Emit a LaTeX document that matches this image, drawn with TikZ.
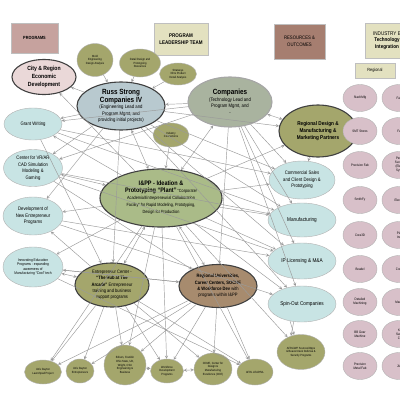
\documentclass[tikz,border=0pt]{standalone}
\usepackage{fontspec}
\setmainfont{Liberation Sans}[FakeStretch=0.85]
\usetikzlibrary{shapes.geometric, arrows, positioning}
\definecolor{hdrpink}{HTML}{C6A29E}
\definecolor{hdrkhaki}{HTML}{E3E1C0}
\definecolor{hdrbrown}{HTML}{A67E70}
\definecolor{citypink}{HTML}{EAD8D8}
\definecolor{russblue}{HTML}{B8C9CF}
\definecolor{compgreen}{HTML}{A9B39F}
\definecolor{progcyan}{HTML}{C8E4E4}
\definecolor{olivefill}{HTML}{A4A66C}
\definecolor{ippgreen}{HTML}{AABB88}
\definecolor{univbrown}{HTML}{A78B6E}
\definecolor{firmpink}{HTML}{D8C0C9}
\definecolor{linkgray}{HTML}{9A9A9A}
\tikzset{
    hdr/.style={rectangle, draw=gray!50, inner sep=0pt, align=center},
    blob/.style={ellipse, draw=gray!75!black, inner sep=0pt, align=center},
    keyblob/.style={blob, draw=black!75, line width=1.1pt},
    prog/.style={blob, draw=gray!60, fill=progcyan, font=\fontsize{5}{6.5}\selectfont},
    small/.style={blob, draw=gray!60, fill=olivefill, font=\fontsize{3}{3.6}\selectfont},
    firm/.style={blob, draw=gray!60, fill=firmpink, minimum width=34pt, minimum height=27pt, font=\fontsize{3.4}{4}\selectfont},
    link/.style={->, >=stealth, draw=linkgray, line width=0.45pt}
}

\begin{document}
\begin{tikzpicture}[x=1pt, y=-1pt]
    \useasboundingbox (0,0) rectangle (400,400);
    \clip (0,0) rectangle (400,400);
    \fill[white] (0,0) rectangle (400,400);

    % Header boxes
    \node[hdr, fill=hdrpink, minimum width=47pt, minimum height=30pt, font=\fontsize{4.5}{5.5}\selectfont\bfseries] (programs) at (34.5,38) {PROGRAMS};
    \node[hdr, fill=hdrkhaki, minimum width=54pt, minimum height=32pt, font=\fontsize{5.3}{6.5}\selectfont\bfseries] (leadership) at (181,39) {PROGRAM\\LEADERSHIP TEAM};
    \node[hdr, fill=hdrbrown, minimum width=51pt, minimum height=35pt, font=\fontsize{5}{6.5}\selectfont] (resources) at (299.5,41.5) {RESOURCES \&\\OUTCOMES};
    \node[hdr, fill=hdrkhaki, minimum width=44pt, minimum height=35pt, font=\fontsize{5.4}{6.5}\selectfont] (industry) at (387,40.5) {INDUSTRY E\\\textbf{Technology}\\\textbf{Integration}};
    \node[hdr, fill=hdrkhaki, minimum width=40pt, minimum height=15pt, font=\fontsize{4.5}{5.5}\selectfont] (regional) at (375,70.5) {Regional};

    % Leadership team
    \node[keyblob, fill=citypink, minimum width=64pt, minimum height=35pt, font=\fontsize{6}{8}\selectfont\bfseries] (city) at (44,77) {City \& Region\\Economic\\Development};
    \node[keyblob, fill=russblue, minimum width=88pt, minimum height=48pt, font=\fontsize{5}{6.5}\selectfont] (russ) at (121,106) {{\fontsize{7.5}{8.5}\selectfont\bfseries Russ Strong}\\{\fontsize{7.5}{8.5}\selectfont\bfseries Companies IV}\\(Engineering Lead and\\Program Mgmt, and\\providing initial projects)};
    \node[keyblob, draw=gray!70, fill=compgreen, minimum width=84pt, minimum height=50pt, font=\fontsize{5}{6.5}\selectfont] (comp) at (230,102) {{\fontsize{7.5}{8.5}\selectfont\bfseries Companies}\\(Technology Lead and\\Program Mgmt, and\\-};
    \node[small, minimum width=36pt, minimum height=33pt] (mold) at (95,60) {Mold\\Engineering\\Design Analysis};
    \node[small, minimum width=41pt, minimum height=28pt] (detail) at (140,63) {Detail Design and\\Prototyping\\Resources};
    \node[small, minimum width=37pt, minimum height=22pt] (strat) at (178,74) {Stratasys\\3D \& Product\\Detail Analysis};
    \node[small, minimum width=36pt, minimum height=24pt] (indcon) at (171,135) {Industry\\Connections};

    % Programs column
    \node[prog, minimum width=58pt, minimum height=32pt] (grant) at (33,124) {Grant Writing};
    \node[prog, minimum width=59pt, minimum height=37pt] (vr) at (33,168) {Center for VR/AR\\CAD Simulation\\Modeling \&\\Gaming};
    \node[prog, minimum width=60pt, minimum height=38pt] (devent) at (33,216) {Development of\\New Entrepreneur\\Programs};
    \node[prog, minimum width=60pt, minimum height=40pt, font=\fontsize{3.8}{4.6}\selectfont] (innov) at (33,267) {Innovating Education\\Programs - expanding\\awareness of\\Manufacturing ``Cool'' tech};

    % Central plant
    \node[keyblob, fill=ippgreen, minimum width=122pt, minimum height=58pt, font=\fontsize{4.5}{7}\selectfont] (ipp) at (161,198) {{\fontsize{6.5}{8.5}\selectfont\bfseries I\&PP - Ideation \&}\\{\fontsize{6.5}{8.5}\selectfont\bfseries Prototyping ``Plant''} ``Corporate/\\Academia/Entrepreneurial Collaboration\\Facility'' for Rapid Modeling, Prototyping,\\Design for Production};
    \node[keyblob, fill=olivefill, minimum width=74pt, minimum height=44pt, font=\fontsize{4.8}{6.2}\selectfont] (hub) at (112,285) {Entrepreneur Center -\\\textbf{``The Hub at The}\\\textbf{Arcade''} Entrepreneur\\training and business\\support programs};
    \node[keyblob, fill=univbrown, minimum width=78pt, minimum height=43pt, font=\fontsize{4.8}{6.2}\selectfont] (univ) at (218,286) {\textbf{Regional Universities,}\\\textbf{Career Centers, SOCHE}\\\textbf{\& Workforce Dev} with\\programs within I\&PP};

    % Outcomes column
    \node[keyblob, fill=olivefill, minimum width=78pt, minimum height=52pt, font=\fontsize{5.5}{6.7}\selectfont\bfseries] (regdes) at (318,131) {Regional Design \&\\Manufacturing \&\\Marketing Partners};
    \node[prog, minimum width=66pt, minimum height=38pt] (sales) at (302,180) {Commercial Sales\\and Client Design \&\\Prototyping};
    \node[prog, minimum width=68pt, minimum height=34pt, font=\fontsize{5.5}{6.5}\selectfont] (mfg) at (302,220) {Manufacturing};
    \node[prog, minimum width=68pt, minimum height=36pt, font=\fontsize{5.5}{6.5}\selectfont] (ip) at (302,261) {IP Licensing \& M\&A};
    \node[prog, minimum width=68pt, minimum height=36pt, font=\fontsize{5.5}{6.5}\selectfont] (spin) at (302,304) {Spin-Out Companies};

    % Bottom partners
    \node[small, minimum width=37pt, minimum height=24pt] (udone) at (43,372) {Univ Dayton\\Launchpad Project};
    \node[small, minimum width=28pt, minimum height=24pt] (udtwo) at (80,371) {Univ Dayton\\Entrepreneurs};
    \node[small, minimum width=42pt, minimum height=40pt] (edison) at (125,365) {Edison, Franklin\\Ohio State, UD,\\Wright, CSU\\Engineering \&\\Business};
    \node[small, minimum width=33pt, minimum height=24pt] (work) at (167,371) {Workforce\\Development\\Programs};
    \node[small, minimum width=38pt, minimum height=32pt] (cdme) at (213,369) {CDME, Center for\\Design \&\\Manufacturing\\Excellence (CDE)};
    \node[small, minimum width=36pt, minimum height=26pt] (afrl) at (255,372) {AFRL LEAP/ML};
    \node[small, minimum width=48pt, minimum height=35pt] (afrlwp) at (301,352) {AFRL/WP Sources/Opps\\\& Beavercreek Defense \&\\Security Programs};

    % Industry firms
    \node[firm] (stadt) at (360,98) {Stadt Mfg};
    \node[firm] (smt) at (360,131) {SMT Stores};
    \node[firm] (precfab) at (360,165) {Precision Fab};
    \node[firm] (smithfy) at (360,200) {SmithFy};
    \node[firm] (cora) at (360,235) {Cora3D};
    \node[firm] (beadel) at (360,269) {Beadel};
    \node[firm] (detmach) at (360,302) {Detailed\\Machining};
    \node[firm] (bbgear) at (360,334) {BB Gear\\Machine};
    \node[firm] (precmetal) at (360,366) {Precision\\Metal Fab};
    \node[firm] (fabtwo) at (399,98) {Fab};
    \node[firm] (fatwo) at (399,131) {Fa};
    \node[firm] (pers) at (399,165) {Pers\\Succe\\(Elec\\Syst};
    \node[firm] (electr) at (399,200) {Electro};
    \node[firm] (plas) at (399,235) {Pla\\Ind};
    \node[firm] (cont) at (399,269) {Cont};
    \node[firm] (machi) at (399,302) {Mach};
    \node[firm] (bsome) at (399,334) {K\\Sum\\C};
    \node[firm] (jo) at (399,366) {JM};

    % Connectors
    \draw[link] (russ) -- (city);
    \draw[link] (ipp) -- (city);
    \draw[link] (mold) -- (russ);
    \draw[link] (detail) -- (russ);
    \draw[link] (strat) -- (russ);
    \draw[link] (comp) -- (russ);
    \draw[link, <->] (russ) -- (ipp);
    \draw[link, <->] (comp) -- (ipp);
    \draw[link] (indcon) -- (ipp);
    \draw[link] (russ) -- (grant);
    \draw[link] (ipp) -- (grant);
    \draw[link] (comp) -- (grant);
    \draw[link] (russ) -- (vr);
    \draw[link, <->] (ipp) -- (vr);
    \draw[link] (comp) -- (vr);
    \draw[link] (russ) -- (devent);
    \draw[link] (ipp) -- (devent);
    \draw[link] (hub) -- (devent);
    \draw[link] (ipp) -- (innov);
    \draw[link, <->] (hub) -- (innov);
    \draw[link] (univ) -- (innov);
    \draw[link] (ipp) -- (regdes);
    \draw[link, <->] (comp) -- (regdes);
    \draw[link] (russ) -- (regdes);
    \draw[link] (regdes) -- (sales);
    \draw[link] (ipp) -- (sales);
    \draw[link] (comp) -- (sales);
    \draw[link] (russ) -- (sales);
    \draw[link] (grant) -- (sales);
    \draw[link] (ipp) -- (mfg);
    \draw[link] (comp) -- (mfg);
    \draw[link] (russ) -- (mfg);
    \draw[link] (grant) -- (mfg);
    \draw[link] (vr) -- (mfg);
    \draw[link] (ipp) -- (ip);
    \draw[link] (comp) -- (ip);
    \draw[link] (russ) -- (ip);
    \draw[link] (vr) -- (ip);
    \draw[link] (devent) -- (ip);
    \draw[link] (ipp) -- (spin);
    \draw[link] (comp) -- (spin);
    \draw[link] (russ) -- (spin);
    \draw[link] (devent) -- (spin);
    \draw[link, <->] (ipp) -- (hub);
    \draw[link, <->] (ipp) -- (univ);
    \draw[link] (comp) -- (univ);
    \draw[link] (russ) -- (hub);
    \draw[link] (innov) -- (univ);
    \draw[link] (vr) -- (univ);
    \draw[link] (grant) -- (hub);
    \draw[link] (hub) -- (udone);
    \draw[link] (hub) -- (udtwo);
    \draw[link] (hub) -- (edison);
    \draw[link] (hub) -- (work);
    \draw[link] (hub) -- (cdme);
    \draw[link] (hub) -- (afrl);
    \draw[link] (univ) -- (udone);
    \draw[link] (univ) -- (udtwo);
    \draw[link] (univ) -- (edison);
    \draw[link] (univ) -- (work);
    \draw[link] (univ) -- (cdme);
    \draw[link] (univ) -- (afrl);
    \draw[link] (ipp) -- (udone);
    \draw[link] (ipp) -- (edison);
    \draw[link] (ipp) -- (work);
    \draw[link] (ipp) -- (afrl);
    \draw[link] (innov) -- (afrl);
    \draw[link, <->] (work) -- (cdme);
    \draw[link, <->] (edison) -- (work);
    \draw[link] (spin.235) -- (afrlwp.112);
    \draw[link] (spin.245) -- (afrlwp.122);
    \draw[link] (ipp) -- (afrlwp);
\end{tikzpicture}
\end{document}
